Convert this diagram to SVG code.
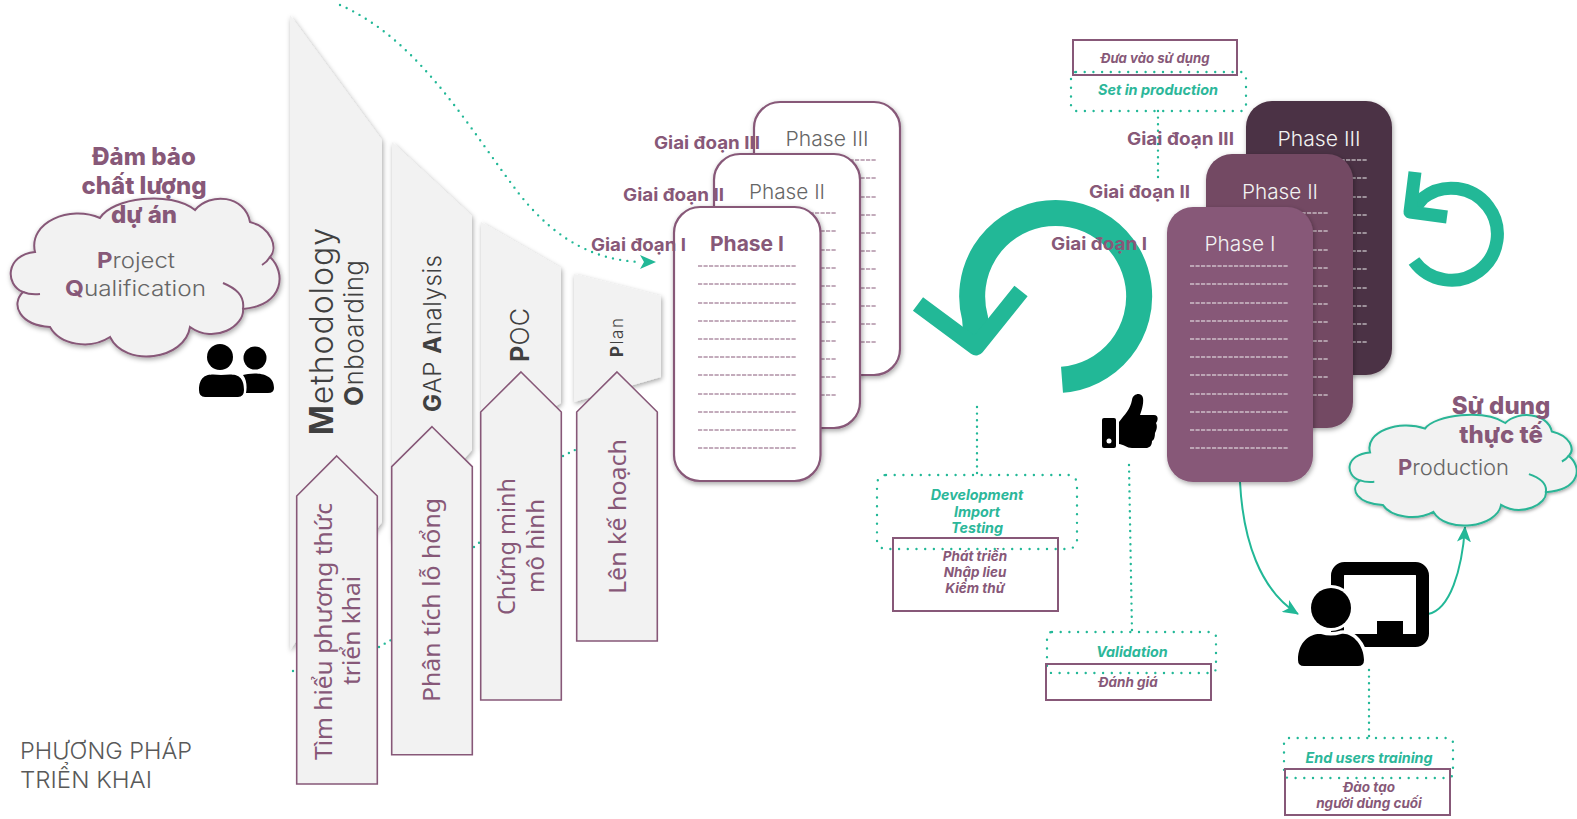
<svg xmlns="http://www.w3.org/2000/svg" width="1577" height="819" viewBox="0 0 1577 819">
<style>
text{font-family:"Inter","Noto Sans","Liberation Sans",sans-serif}
.panel{fill:#f2f2f2;filter:url(#sh)}
.arrow{fill:#f2f2f2;stroke:#875878;stroke-width:1.6}
.pt{fill:#404040;font-weight:300}
.b{font-weight:700}
.at{fill:#875878;font-family:"Noto Sans","Liberation Sans",sans-serif;font-size:23.5px;text-anchor:middle}
.head{fill:#875878;font-family:"Inter",sans-serif;font-weight:800;text-anchor:middle;font-size:24px}
.gd{fill:#875878;font-weight:700;font-size:17.5px}
.card{fill:#fff;stroke:#875878;stroke-width:2.2;filter:url(#sh)}
.ph{fill:#666;font-size:20.5px;font-weight:300;text-anchor:middle}
.phw{fill:#f2f2f2;font-size:20.5px;font-weight:300;text-anchor:middle}
.d{stroke-width:1;stroke-dasharray:4.2 1.3;fill:none}
.dot{fill:none;stroke:#22b897;stroke-width:2.4;stroke-linecap:round;stroke-dasharray:0 8.7}
.dotc{fill:none;stroke:#22b897;stroke-width:2.4;stroke-linecap:round;stroke-dasharray:0 6.6}
.box{fill:none;stroke:#875878;stroke-width:2}
.en{fill:#2cb79a;font-size:14.3px;font-weight:700;font-style:italic;text-anchor:middle}
.vi{fill:#875878;font-size:13.5px;font-weight:700;font-style:italic;text-anchor:middle}
.teal{fill:none;stroke:#22b897}
.cl{fill:#666;font-size:22px;font-weight:300}
</style>
<defs>
<filter id="sh" x="-15%" y="-15%" width="130%" height="130%"><feDropShadow dx="1" dy="2" stdDeviation="2.5" flood-color="#000" flood-opacity=".35"/></filter>
<marker id="ah" viewBox="0 0 16 14" refX="15" refY="7" markerWidth="16" markerHeight="14" markerUnits="userSpaceOnUse" orient="auto"><path d="M0 0 L16 7 L0 14 L4 7 Z" fill="#22b897"/></marker>
<path id="cloud" vector-effect="non-scaling-stroke" d="M35 252 C28 222 70 205 100 218 C112 198 170 190 195 210 C210 192 245 195 250 222 C272 228 278 248 270 257 C286 272 285 305 243 309 C245 325 215 345 190 327 C185 360 125 368 110 337 C90 350 60 345 50 327 C20 325 10 305 23 292 C5 285 5 255 35 252 Z"/>
<path id="ticks" vector-effect="non-scaling-stroke" fill="none" d="M270 257 Q267 262 262 265 M243 309 C245 295 235 288 223 283 M23 292 Q30 295 40 294"/>
<path id="dashes" d="M0 0H99M0 18H99M0 37H99M0 55H99M0 73H99M0 91H99M0 109H99M0 128H99M0 146H99M0 164H99M0 182H99"/>
</defs>

<g id="connectors">
<path class="dotc" style="stroke-dasharray:0 7.3" d="M340 5 C420 40 470 130 520 195 C560 245 600 260 640 262"/>
<path class="teal" stroke-width="0" d="M640 262H655" marker-end="url(#ah)"/>
<path class="dotc" d="M293 671V671.1M379 647L391 640M474 547L481 541M563 456L577 449"/>
<path class="dotc" d="M1158 111V178"/>
<path class="dotc" d="M977 407V475"/>
<path class="dotc" d="M1129 465L1132 632"/>
<path class="dotc" d="M1369 670V738"/>
<path class="teal" stroke-width="2" d="M1240 482 C1243 540 1260 590 1298 614" marker-end="url(#ah)"/>
<path class="teal" stroke-width="2" d="M1428 614 C1450 610 1462 570 1465 527" marker-end="url(#ah)"/>
</g>

<g id="panel-methodology"><polygon class="panel" points="290,15 382,140 382,522 290,650"/>
<text class="pt" transform="translate(333 435) rotate(-90)" font-size="32" textLength="207"><tspan class="b">M</tspan>ethodology</text>
<text class="pt" transform="translate(363 406) rotate(-90)" font-size="26" textLength="146"><tspan class="b">O</tspan>nboarding</text></g>
<g id="panel-gap"><polygon class="panel" points="392,142 472,216 472,450 392,542"/>
<text class="pt" transform="translate(441 412) rotate(-90)" font-size="24" textLength="157"><tspan class="b">G</tspan>AP <tspan class="b">A</tspan>nalysis</text></g>
<g id="panel-poc"><polygon class="panel" points="481,222 561,268 561,403 481,450"/>
<text class="pt" transform="translate(529 362) rotate(-90)" font-size="25" textLength="54"><tspan class="b">P</tspan>OC</text></g>
<g id="panel-plan"><polygon class="panel" points="574,274 661,296 661,377 574,402"/>
<text class="pt" transform="translate(623 357) rotate(-90)" font-size="17" textLength="39"><tspan class="b">P</tspan>lan</text></g>

<g id="arrow-1"><polygon class="arrow" points="336.7,456 377.3,496 377.3,784 296.7,784 296.7,496"/>
<text class="at" transform="translate(332 631.500) rotate(-90)" textLength="257" lengthAdjust="spacingAndGlyphs">Tìm hiểu phương thức</text>
<text class="at" transform="translate(360 630.500) rotate(-90)" textLength="109" lengthAdjust="spacingAndGlyphs">triển khai</text></g>
<g id="arrow-2"><polygon class="arrow" points="432,426.700 472.300,466.700 472.300,754.700 391.700,754.700 391.700,466.700"/>
<text class="at" transform="translate(440 600) rotate(-90)" textLength="204" lengthAdjust="spacingAndGlyphs">Phân tích lỗ hổng</text></g>
<g id="arrow-3"><polygon class="arrow" points="521,372 561.300,412 561.300,700 480.700,700 480.700,412"/>
<text class="at" transform="translate(515 546.500) rotate(-90)" textLength="137" lengthAdjust="spacingAndGlyphs">Chứng minh</text>
<text class="at" transform="translate(544 546) rotate(-90)" textLength="94" lengthAdjust="spacingAndGlyphs">mô hình</text></g>
<g id="arrow-4"><polygon class="arrow" points="617,372 657.300,412 657.300,641 576.700,641 576.700,412"/>
<text class="at" transform="translate(626 516.500) rotate(-90)" textLength="155" lengthAdjust="spacingAndGlyphs">Lên kế hoạch</text></g>

<g id="cloud-project"><use href="#cloud" fill="#f2f2f2" stroke="#875878" stroke-width="2" filter="url(#sh)"/><use href="#ticks" stroke="#875878" stroke-width="2"/>
<text class="cl" x="97" y="268" textLength="78" lengthAdjust="spacingAndGlyphs"><tspan fill="#875878" font-weight="700">P</tspan>roject</text>
<text class="cl" x="65" y="296" textLength="141" lengthAdjust="spacingAndGlyphs"><tspan fill="#875878" font-weight="700">Q</tspan>ualification</text></g>
<g id="label-quality"><text class="head" x="144" y="165">Đảm bảo</text><text class="head" x="144" y="194">chất lượng</text><text class="head" x="144" y="223">dự án</text></g>

<g id="icon-people"><circle cx="220" cy="357" r="13"/><path d="M199 390 C199 372 212 374 221 375 C232 374 244 372 244 390 Q244 397 238 397 H205 Q199 397 199 390Z"/><circle cx="255" cy="358" r="11.500"/><path d="M246 393 C247 388 247 380 243 375 C250 373 274 370 274 388 Q274 393 268 393Z"/></g>

<g id="card-plan-3"><rect class="card" x="754" y="102" width="146" height="273" rx="26"/><text class="ph" x="827" y="146" textLength="83" lengthAdjust="spacingAndGlyphs">Phase III</text><use href="#dashes" x="778" y="160" class="d" stroke="#875878"/></g>
<g id="card-plan-2"><rect class="card" x="714" y="154" width="146" height="274" rx="26"/><text class="ph" x="787" y="199" textLength="76" lengthAdjust="spacingAndGlyphs">Phase II</text><use href="#dashes" x="738" y="213" class="d" stroke="#875878"/></g>
<g id="card-plan-1"><rect class="card" x="674" y="207" width="146.500" height="274" rx="26"/><text class="ph" style="font-weight:700;fill:#875878" x="747" y="251" textLength="74" lengthAdjust="spacingAndGlyphs">Phase I</text><use href="#dashes" x="698" y="266" class="d" stroke="#875878"/></g>
<text class="gd" x="654" y="149" textLength="106" lengthAdjust="spacingAndGlyphs">Giai đoạn III</text>
<text class="gd" x="623" y="201" textLength="101" lengthAdjust="spacingAndGlyphs">Giai đoạn II</text>
<text class="gd" x="591" y="251" textLength="95" lengthAdjust="spacingAndGlyphs">Giai đoạn I</text>

<g id="cycle-large" class="teal"><path stroke-width="26" d="M1062 379.700 A83.500 83.500 0 1 0 975 318 L977 342"/><path stroke-width="17" stroke-linejoin="round" d="M918 304 L976 347 L1021 291"/></g>
<g id="cycle-small" class="teal"><path stroke-width="13" d="M1414 261 A46 46 0 1 0 1423 198 L1411 212"/><path stroke-width="13" stroke-linejoin="round" d="M1415 172 L1410 212 L1447 217"/></g>

<g id="card-prod-3"><rect x="1246" y="101" width="146" height="274" rx="26" fill="#4c3244" filter="url(#sh)"/><text class="phw" x="1319" y="146" textLength="83" lengthAdjust="spacingAndGlyphs">Phase III</text><use href="#dashes" x="1269" y="160" class="d" stroke="#f2f2f2"/></g>
<g id="card-prod-2"><rect x="1206" y="154" width="147" height="274" rx="26" fill="#734a64" filter="url(#sh)"/><text class="phw" x="1280" y="199" textLength="76" lengthAdjust="spacingAndGlyphs">Phase II</text><use href="#dashes" x="1230" y="213" class="d" stroke="#f2f2f2"/></g>
<g id="card-prod-1"><rect x="1167" y="207" width="146" height="275" rx="26" fill="#875878" filter="url(#sh)"/><text class="phw" x="1240" y="251" textLength="71" lengthAdjust="spacingAndGlyphs">Phase I</text><use href="#dashes" x="1190" y="266" class="d" stroke="#f2f2f2"/></g>
<text class="gd" x="1127" y="145" textLength="107" lengthAdjust="spacingAndGlyphs">Giai đoạn III</text>
<text class="gd" x="1089" y="198" textLength="101" lengthAdjust="spacingAndGlyphs">Giai đoạn II</text>
<text class="gd" x="1051" y="250" textLength="96" lengthAdjust="spacingAndGlyphs">Giai đoạn I</text>

<g id="icon-thumb"><rect x="1102" y="418" width="14" height="30" rx="2"/><circle cx="1109" cy="441" r="2.500" fill="#fff"/><path d="M1119 422 C1125 414 1130 410 1132 400 C1133 393 1142 392 1143 398 C1144 404 1141 412 1140 415 L1154 415 C1159 415 1158 421 1156 423 C1158 427 1156 431 1155 433 C1155 437 1154 440 1152 441 C1152 446 1149 448 1146 448 L1132 448 C1127 448 1123 444 1119 444 Z"/></g>

<g id="box-production"><rect class="dot" x="1071" y="72" width="175" height="39" rx="5"/><rect class="box" x="1073" y="40" width="164" height="35"/>
<text class="vi" x="1155" y="63" textLength="109" lengthAdjust="spacingAndGlyphs">Đưa vào sử dụng</text><text class="en" x="1158" y="95" textLength="120" lengthAdjust="spacingAndGlyphs">Set in production</text></g>
<g id="box-development"><rect class="dot" x="877" y="475" width="200" height="74" rx="9"/><rect class="box" x="893" y="538" width="165" height="73"/>
<text class="en" x="977" y="500">Development</text><text class="en" x="977" y="517">Import</text><text class="en" x="977" y="533">Testing</text>
<text class="vi" x="975" y="561">Phát triển</text><text class="vi" x="975" y="577">Nhập lieu</text><text class="vi" x="975" y="593">Kiểm thử</text></g>
<g id="box-validation"><rect class="dot" x="1047" y="632" width="169" height="41" rx="5"/><rect class="box" x="1046" y="664" width="165" height="36"/>
<text class="en" x="1132" y="657">Validation</text><text class="vi" x="1128" y="687">Đánh giá</text></g>
<g id="box-training"><rect class="dot" x="1284" y="738" width="169" height="40" rx="5"/><rect class="box" x="1285" y="769" width="165" height="46"/>
<text class="en" x="1369" y="763">End users training</text><text class="vi" x="1369" y="792">Đào tạo</text><text class="vi" x="1369" y="808">người dùng cuối</text></g>

<g id="cloud-production"><g transform="translate(1340.500 276) scale(.845 .7)"><use href="#cloud" fill="#f2f2f2" stroke="#2ab596" stroke-width="2" filter="url(#sh)"/><use href="#ticks" stroke="#2ab596" stroke-width="2"/></g>
<text class="cl" x="1398" y="475" textLength="111" lengthAdjust="spacingAndGlyphs"><tspan fill="#875878" font-weight="700">P</tspan>roduction</text></g>
<g id="label-use"><text class="head" x="1501" y="414">Sử dung</text><text class="head" x="1501" y="443">thực tế</text></g>

<g id="icon-presenter"><rect x="1337.500" y="568.500" width="85" height="72" rx="7" fill="none" stroke="#000" stroke-width="13"/><rect x="1377" y="621" width="26" height="14"/><circle cx="1331" cy="608" r="20" stroke="#fff" stroke-width="6" paint-order="stroke"/><path d="M1298 660 C1298 640 1312 633 1321 634 Q1331 637 1341 634 C1352 632 1364 645 1364 660 Q1364 666 1358 666 H1304 Q1298 666 1298 660Z" stroke="#fff" stroke-width="7" paint-order="stroke"/></g>

<g id="title"><text x="20" y="759" font-size="23" fill="#595959" textLength="172" lengthAdjust="spacingAndGlyphs" font-weight="300">PHƯƠNG PHÁP</text><text x="20" y="788" font-size="23" fill="#595959" textLength="132" lengthAdjust="spacingAndGlyphs" font-weight="300">TRIỂN KHAI</text></g>
</svg>
